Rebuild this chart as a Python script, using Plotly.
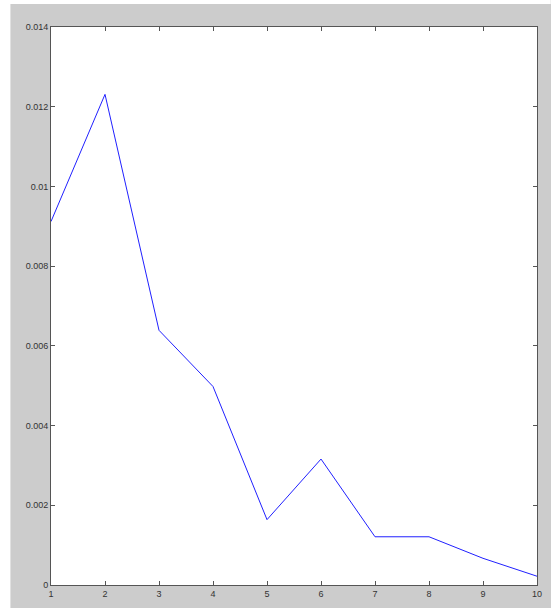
import plotly.graph_objects as go

# Series values
x_vals = [1, 2, 3, 4, 5, 6, 7, 8, 9, 10]
y_vals = [0.00912, 0.01231, 0.00639, 0.00498, 0.00164, 0.00316, 0.00121, 0.00121, 0.00067, 0.00022]

# Tick definitions
x_ticks = [1, 2, 3, 4, 5, 6, 7, 8, 9, 10]
y_ticks = [0, 0.002, 0.004, 0.006, 0.008, 0.01, 0.012, 0.014]
y_tick_text = ["0", "0.002", "0.004", "0.006", "0.008", "0.01", "0.012", "0.014"]

W, H = 551, 608
ML, MR, MT, MB = 51, 9, 27, 21
PW, PH = W - ML - MR, H - MT - MB

fig = go.Figure()
fig.add_trace(go.Scatter(
    x=x_vals, y=y_vals, mode="lines",
    line=dict(color="#2020ff", width=1),
    hoverinfo="skip", showlegend=False,
))

axis_common = dict(
    showgrid=False, zeroline=False,
    showline=True, linecolor="#555555", linewidth=1,
    mirror="ticks", ticks="inside", ticklen=4, tickcolor="#555555", tickwidth=1,
    tickfont=dict(family="Liberation Sans, Arial, sans-serif", size=9, color="#333333"),
)

fig.update_xaxes(range=[1, 10], tickvals=x_ticks, ticktext=[str(v) for v in x_ticks], **axis_common)
fig.update_yaxes(range=[0, 0.014], tickvals=y_ticks, ticktext=y_tick_text, **axis_common)

# White strips at the left and top edges of the gray figure area
fig.add_shape(type="rect", xref="paper", yref="paper", layer="below",
              x0=-ML / PW - 0.01, x1=(10 - ML) / PW, y0=-MB / PH - 0.01, y1=1 + MT / PH + 0.01,
              fillcolor="white", line=dict(width=0))
fig.add_shape(type="rect", xref="paper", yref="paper", layer="below",
              x0=-ML / PW - 0.01, x1=1 + MR / PW + 0.01, y0=1 + (MT - 4) / PH, y1=1 + MT / PH + 0.01,
              fillcolor="white", line=dict(width=0))

fig.update_layout(
    width=W, height=H,
    margin=dict(l=ML, r=MR, t=MT, b=MB),
    paper_bgcolor="#cccccc", plot_bgcolor="white",
)

fig.write_html("out.html")
